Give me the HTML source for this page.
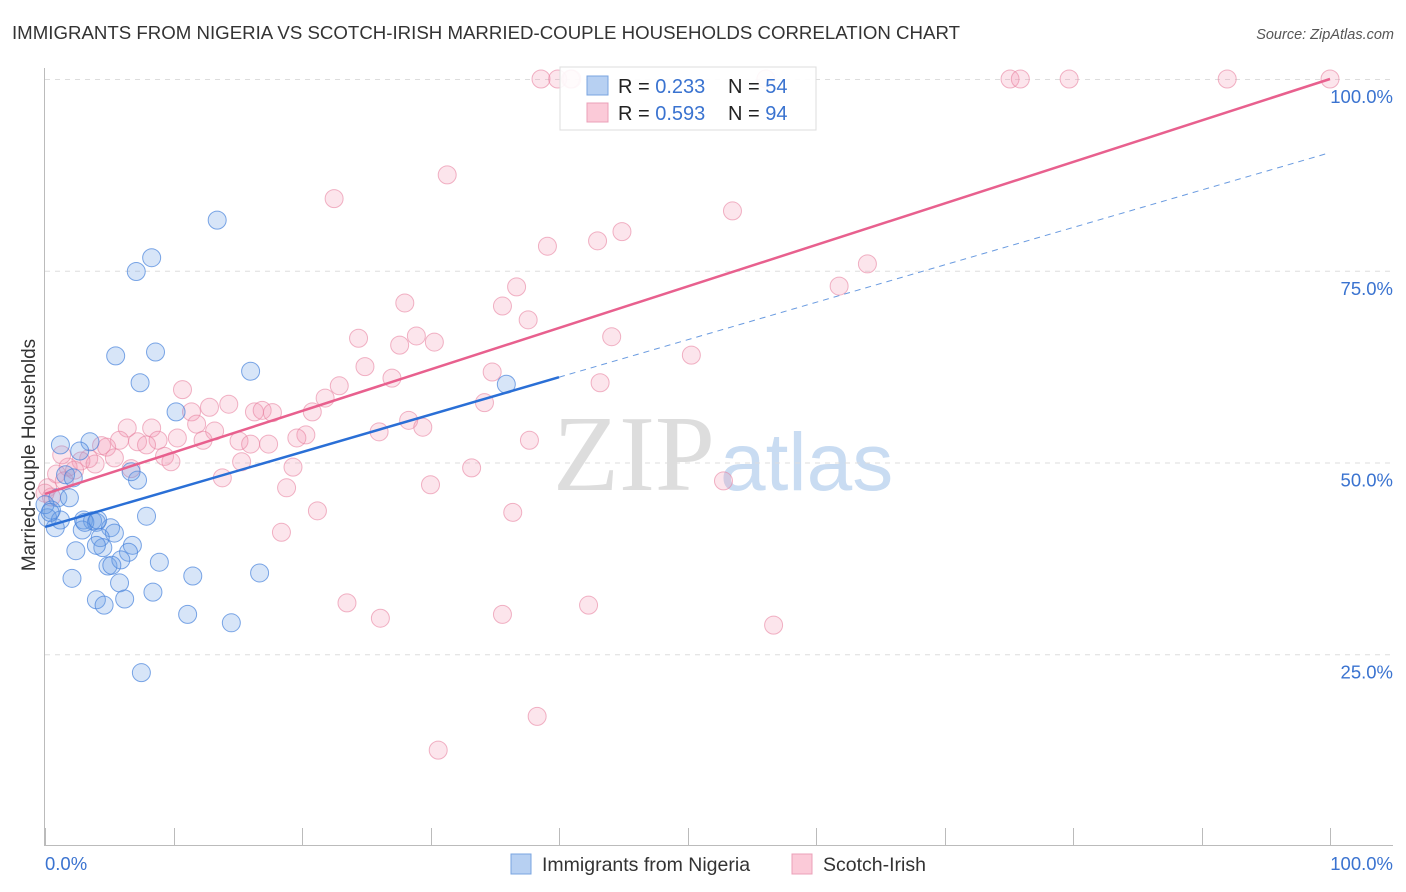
<!DOCTYPE html>
<html><head><meta charset="utf-8"><style>
body{margin:0;background:#fff;font-family:"Liberation Sans",sans-serif;}
svg{display:block}
</style></head><body>
<svg id="c" width="1406" height="892" xmlns="http://www.w3.org/2000/svg">
<text x="12" y="39" font-size="18.6" fill="#333" textLength="948" lengthAdjust="spacingAndGlyphs">IMMIGRANTS FROM NIGERIA VS SCOTCH-IRISH MARRIED-COUPLE HOUSEHOLDS CORRELATION CHART</text>
<text x="1394" y="39" font-size="14.5" fill="#555" font-style="italic" text-anchor="end">Source: ZipAtlas.com</text>
<g><text x="553" y="490" font-size="108" font-family="Liberation Serif,serif" fill="#ddd">ZIP</text><text x="720" y="490" font-size="82" fill="#c9dcf2">atlas</text></g>
<g id="grid"></g>
<g id="axes"></g>
<g id="pts"></g>
<g id="lines"></g>
<g>
<rect x="560" y="67" width="256" height="63" fill="#fff" fill-opacity="0.9" stroke="#ddd"/>
<rect x="587" y="76" width="21" height="19" fill="#b7d0f2" stroke="#7aa4e0"/>
<rect x="587" y="103" width="21" height="19" fill="#fbcad8" stroke="#eba0b8"/>
<text x="618" y="93" font-size="20" fill="#222">R = <tspan fill="#3a73d0">0.233</tspan><tspan x="728">N = </tspan><tspan fill="#3a73d0">54</tspan></text>
<text x="618" y="120" font-size="20" fill="#222">R = <tspan fill="#3a73d0">0.593</tspan><tspan x="728">N = </tspan><tspan fill="#3a73d0">94</tspan></text>
</g>
<g>
<rect x="511" y="854" width="20" height="20" fill="#b7d0f2" stroke="#7aa4e0"/>
<text x="542" y="871" font-size="19.5" fill="#333">Immigrants from Nigeria</text>
<rect x="792" y="854" width="20" height="20" fill="#fbcad8" stroke="#eba0b8"/>
<text x="823" y="871" font-size="19.5" fill="#333">Scotch-Irish</text>
</g>
<text x="-455" y="35" transform="rotate(-90)" font-size="19" fill="#333" text-anchor="middle">Married-couple Households</text>
</svg>
<script>
const blueX=[13.4,8.3,7.1,5.5,8.6,7.4,16.0,10.2,1.2,3.5,2.7,1.6,2.2,7.2,6.7,1.0,1.9,0.5,0.2,1.2,0.8,3.0,3.7,4.0,2.9,5.1,5.4,7.9,4.3,4.5,6.8,6.5,2.4,4.9,5.9,8.9,11.5,16.7,2.1,5.8,4.0,6.2,4.6,8.4,11.1,14.5,7.5,35.9,0.0,0.4,3.1,5.2,4.0,4.1];
const blueY=[81.6,76.7,74.9,63.9,64.4,60.4,61.9,56.6,52.3,52.7,51.5,48.4,48.0,47.7,48.8,45.4,45.4,43.8,42.8,42.5,41.5,42.5,42.4,42.2,41.2,41.5,40.8,43.0,40.2,38.9,39.2,38.3,38.5,36.5,37.3,37.0,35.2,35.6,34.9,34.3,32.1,32.2,31.4,33.1,30.2,29.1,22.6,60.2,44.5,43.5,42.2,36.6,39.2,42.5];
const pinkX=[38.6,39.9,40.9,41.0,56.1,75.1,75.9,79.7,92.0,100,31.3,22.5,53.5,44.9,43.0,39.1,64.0,61.8,36.7,28.0,35.6,37.6,24.4,28.9,30.3,44.1,27.6,50.3,24.9,34.8,27.0,22.9,43.2,10.7,21.8,34.2,12.8,14.3,11.4,16.3,16.9,17.7,20.8,28.3,11.8,8.3,6.4,29.4,26.0,20.3,13.2,10.3,5.8,7.2,8.8,12.3,15.1,19.6,37.7,4.4,4.8,7.9,16.0,17.4,9.3,5.4,3.4,2.8,9.8,15.3,3.9,1.8,19.3,6.7,33.2,0.9,13.8,1.5,52.8,0.2,30.0,18.8,0.5,21.2,36.4,18.4,23.5,42.3,35.6,26.1,56.7,38.3,30.6,1.3,2.3,0.0];
const pinkY=[100,100,100,100,100,100,100,100,100,100,87.5,84.4,82.8,80.1,78.9,78.2,75.9,73.0,72.9,70.8,70.4,68.6,66.2,66.5,65.7,66.4,65.3,64.0,62.5,61.8,61.0,60.0,60.4,59.5,58.4,57.8,57.2,57.6,56.6,56.6,56.8,56.5,56.6,55.5,55.0,54.5,54.5,54.6,54.0,53.6,54.1,53.2,52.9,52.7,52.9,52.9,52.8,53.2,52.9,52.2,52.0,52.3,52.4,52.4,50.8,50.6,50.5,50.2,50.1,50.1,49.8,49.4,49.4,49.2,49.3,48.5,48.0,47.6,47.6,46.7,47.1,46.7,45.5,43.7,43.5,40.9,31.7,31.4,30.2,29.7,28.8,16.9,12.5,51.0,49.0,46.0];
const yTicks=[25,50,75,100];
const yTickLabels=["25.0%","50.0%","75.0%","100.0%"];
const blueTrend=[41.6,90.4], blueSolidEnd=40;
const pinkTrend=[45.9,100];
const NS="http://www.w3.org/2000/svg";
const X=v=>45+v*12.85, Y=v=>846-v*7.67;
function mk(tag,attrs,parent){const e=document.createElementNS(NS,tag);for(const k in attrs)e.setAttribute(k,attrs[k]);parent.appendChild(e);return e;}
const grid=document.getElementById('grid'),axes=document.getElementById('axes'),pts=document.getElementById('pts'),lines=document.getElementById('lines');
yTicks.forEach((t,i)=>{
 const l=mk('line',{x1:45,x2:1393,y1:Y(t)+0.5,y2:Y(t)+0.5,stroke:'#ddd','stroke-dasharray':'5,5'},grid);
 
 
 const tx=mk('text',{x:1393,y:Y(t)+24,'font-size':18.5,fill:'#3a73d0','text-anchor':'end'},axes);tx.textContent=yTickLabels[i];
 
 
});
mk('line',{x1:44.5,x2:44.5,y1:68,y2:846,stroke:'#bbb'},axes);
mk('line',{x1:44,x2:1393,y1:845.5,y2:845.5,stroke:'#bbb'},axes);
for(let i=0;i<=10;i++){const t=mk('line',{x1:Math.round(X(i*10))+0.5,x2:Math.round(X(i*10))+0.5,y1:828,y2:845,stroke:'#bbb'},axes);
 
 }
let a=mk('text',{x:45,y:870,'font-size':18.5,fill:'#3a73d0'},axes);a.textContent='0.0%';


a=mk('text',{x:1393,y:870,'font-size':18.5,fill:'#3a73d0','text-anchor':'end'},axes);a.textContent='100.0%';


pinkX.forEach((x,i)=>{const c=mk('circle',{cx:X(x),cy:Y(pinkY[i]),r:9,fill:'rgba(244,150,180,0.25)',stroke:'rgba(232,130,160,0.6)','stroke-width':1},pts);
 
 });
blueX.forEach((x,i)=>{const c=mk('circle',{cx:X(x),cy:Y(blueY[i]),r:9,fill:'rgba(110,160,230,0.28)',stroke:'rgba(70,130,220,0.7)','stroke-width':1},pts);
 
 });
const by=x=>blueTrend[0]+(blueTrend[1]-blueTrend[0])*x/100;
let l=mk('line',{x1:X(0),y1:Y(by(0)),x2:X(blueSolidEnd),y2:Y(by(blueSolidEnd)),stroke:'#2a6fd6','stroke-width':2.5},lines);


l=mk('line',{x1:X(blueSolidEnd),y1:Y(by(blueSolidEnd)),x2:X(100),y2:Y(by(100)),stroke:'#6a9be0','stroke-width':1,'stroke-dasharray':'6,5'},lines);


l=mk('line',{x1:X(0),y1:Y(pinkTrend[0]),x2:X(100),y2:Y(pinkTrend[1]),stroke:'#e8608e','stroke-width':2.5},lines);


</script>
</body></html>
